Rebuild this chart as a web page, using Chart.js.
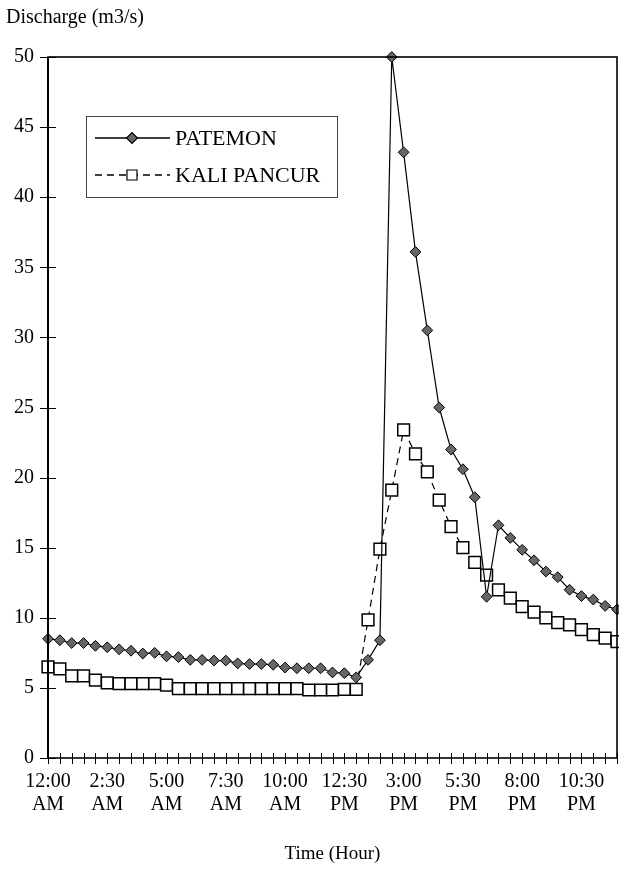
<!DOCTYPE html>
<html>
<head>
<meta charset="utf-8">
<style>
html,body{margin:0;padding:0;background:#ffffff;}
#wrap{width:619px;height:882px;position:relative;}
</style>
<script src="https://cdn.jsdelivr.net/npm/chart.js@4.4.1/dist/chart.umd.min.js"></script>
</head>
<body>
<div id="wrap"><canvas id="c" width="619" height="882"></canvas></div>
<script>
// ---- data ----
const timeLabels = [
  "12:00 AM","12:30 AM","1:00 AM","1:30 AM","2:00 AM","2:30 AM","3:00 AM","3:30 AM",
  "4:00 AM","4:30 AM","5:00 AM","5:30 AM","6:00 AM","6:30 AM","7:00 AM","7:30 AM",
  "8:00 AM","8:30 AM","9:00 AM","9:30 AM","10:00 AM","10:30 AM","11:00 AM","11:30 AM",
  "12:00 PM","12:30 PM","1:00 PM","1:30 PM","2:00 PM","2:30 PM","3:00 PM","3:30 PM",
  "4:00 PM","4:30 PM","5:00 PM","5:30 PM","6:00 PM","6:30 PM","7:00 PM","7:30 PM",
  "8:00 PM","8:30 PM","9:00 PM","9:30 PM","10:00 PM","10:30 PM","11:00 PM","11:30 PM",
  "12:00 AM"
];
const patemon = [
  8.5, 8.4, 8.2, 8.2, 8.0, 7.9, 7.75, 7.65, 7.45, 7.5, 7.25, 7.2, 7.0, 7.0, 6.95, 6.95,
  6.75, 6.7, 6.7, 6.65, 6.45, 6.4, 6.4, 6.4, 6.1, 6.05, 5.75, 7.0, 8.4, 50, 43.2, 36.1,
  30.5, 25.0, 22.0, 20.6, 18.6, 11.5, 16.6, 15.7, 14.85, 14.1, 13.3, 12.9, 12.0, 11.55,
  11.3, 10.85, 10.6
];
const kaliPancur = [
  6.5, 6.35, 5.85, 5.85, 5.55, 5.35, 5.3, 5.3, 5.3, 5.3, 5.2, 4.95, 4.95, 4.95, 4.95, 4.95,
  4.95, 4.95, 4.95, 4.95, 4.95, 4.95, 4.85, 4.85, 4.85, 4.9, 4.9, 9.85, 14.9, 19.1, 23.4, 21.7,
  20.4, 18.4, 16.5, 15.0, 13.95, 13.05, 12.0, 11.4, 10.8, 10.4, 10.0, 9.65, 9.5, 9.15,
  8.8, 8.55, 8.3
];
const seriesNames = ["PATEMON", "KALI PANCUR"];
const yMin = 0, yMax = 50, yStep = 5;
const xTickEvery = 5;
const yTitle = "Discharge (m3/s)";
const xTitle = "Time (Hour)";

const FONT = '"Liberation Serif", "Times New Roman", serif';

const framePlugin = {
  id: 'frameTicks',
  afterDatasetsDraw(chart) {
    const ctx = chart.ctx, a = chart.chartArea;
    const xs = chart.scales.x, ys = chart.scales.y;
    ctx.save();
    ctx.strokeStyle = '#000';
    ctx.lineWidth = 1.6;
    ctx.strokeRect(a.left, a.top, a.right - a.left, a.bottom - a.top);
    ctx.lineWidth = 2;
    ctx.beginPath(); ctx.moveTo(a.left, a.top); ctx.lineTo(a.left, a.bottom); ctx.stroke();
    ctx.lineWidth = 1;
    ctx.beginPath();
    xs.ticks.forEach((t, i) => {
      const px = Math.round(xs.getPixelForTick(i)) + 0.5;
      ctx.moveTo(px, a.bottom - 5); ctx.lineTo(px, a.bottom + 6);
    });
    ctx.stroke();
    ctx.beginPath();
    ys.ticks.forEach((t, i) => {
      const py = Math.round(ys.getPixelForTick(i)) + 0.5;
      ctx.moveTo(a.left - 8, py); ctx.lineTo(a.left + 8, py);
    });
    ctx.stroke();
    ctx.restore();
  },
  afterDraw(chart) {
    const ctx = chart.ctx, a = chart.chartArea;
    ctx.save();
    ctx.fillStyle = '#000';
    ctx.textBaseline = 'middle';
    ctx.textAlign = 'left';
    ctx.font = '20px ' + FONT;
    ctx.fillText(yTitle, a.left - 42, a.top - 39);

    const bx = a.left + 38, by = a.top + 59, bw = 251, bh = 81;
    ctx.strokeStyle = '#444';
    ctx.lineWidth = 1;
    ctx.strokeRect(bx + 0.5, by + 0.5, bw, bh);
    const rows = [by + 22, by + 59];
    const ds = chart.data.datasets;
    rows.forEach((ry, k) => {
      const d = ds[k];
      ctx.strokeStyle = '#000';
      ctx.lineWidth = 1.3;
      ctx.setLineDash(d.borderDash || []);
      ctx.beginPath(); ctx.moveTo(bx + 9, ry); ctx.lineTo(bx + 84, ry); ctx.stroke();
      ctx.setLineDash([]);
      const mx = bx + 46;
      ctx.fillStyle = d.pointBackgroundColor;
      ctx.strokeStyle = '#000';
      ctx.lineWidth = 1.2;
      ctx.beginPath();
      if (d.pointStyle === 'rectRot') {
        const r = d.pointRadius;
        ctx.moveTo(mx - r, ry); ctx.lineTo(mx, ry - r); ctx.lineTo(mx + r, ry); ctx.lineTo(mx, ry + r); ctx.closePath();
      } else {
        const s = 5;
        ctx.rect(mx - s, ry - s, 2 * s, 2 * s);
      }
      ctx.fill(); ctx.stroke();
      ctx.fillStyle = '#000';
      ctx.font = '22px ' + FONT;
      ctx.fillText(d.label, bx + 89, ry + 1);
    });
    ctx.restore();
  }
};

new Chart(document.getElementById('c'), {
  type: 'line',
  data: {
    labels: timeLabels,
    datasets: [
      {
        label: seriesNames[0],
        data: patemon,
        borderColor: '#000',
        borderWidth: 1.2,
        pointStyle: 'rectRot',
        pointRadius: 5.4,
        pointBackgroundColor: '#666666',
        pointBorderColor: '#000',
        pointBorderWidth: 1,
        tension: 0,
        clip: 10
      },
      {
        label: seriesNames[1],
        data: kaliPancur,
        borderColor: '#000',
        borderWidth: 1.2,
        borderDash: [7, 5],
        pointStyle: 'rect',
        pointRadius: 8.3,
        pointBackgroundColor: '#ffffff',
        pointBorderColor: '#000',
        pointBorderWidth: 1.5,
        tension: 0,
        clip: 10
      }
    ]
  },
  options: {
    responsive: false,
    animation: false,
    devicePixelRatio: 1,
    layout: { autoPadding: false, padding: { top: 57, right: 2, left: 0, bottom: 0 } },
    plugins: {
      legend: { display: false },
      title: { display: false },
      tooltip: { enabled: false }
    },
    scales: {
      x: {
        type: 'category',
        offset: false,
        grid: { display: false, drawTicks: false },
        border: { display: false },
        ticks: {
          autoSkip: false,
          maxRotation: 0,
          minRotation: 0,
          padding: 12,
          color: '#000',
          font: { family: FONT, size: 20, lineHeight: 1.15 },
          callback: (v, i) => (i % xTickEvery === 0 ? timeLabels[i].split(' ') : '')
        },
        title: {
          display: true,
          text: xTitle,
          color: '#000',
          font: { family: FONT, size: 19, lineHeight: 1.2 },
          padding: { top: 4, bottom: 17 }
        },
        afterFit: (s) => { s.height = 124; s.paddingLeft = 0; s.paddingRight = 0; }
      },
      y: {
        min: yMin,
        max: yMax,
        grid: { display: false, drawTicks: false },
        border: { display: false },
        ticks: {
          stepSize: yStep,
          padding: 14,
          color: '#000',
          font: { family: FONT, size: 20 }
        },
        afterFit: (s) => { s.width = 48; s.paddingTop = 0; s.paddingBottom = 0; }
      }
    }
  },
  plugins: [framePlugin]
});
</script>
</body>
</html>
